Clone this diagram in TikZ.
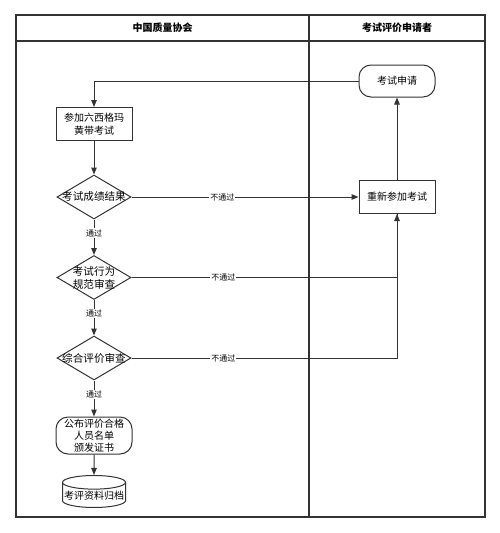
\documentclass[tikz,border=0pt]{standalone}
\usepackage{fontspec}
\setmainfont{Noto Sans CJK SC}
\usetikzlibrary{shapes}
\usetikzlibrary{arrows.meta}
\definecolor{inkgray}{HTML}{333333}
\tikzset{
    lane/.style = {draw=inkgray, line width=1.3pt},
    title/.style = {font=\fontsize{10}{12}\selectfont\bfseries},
    stepbox/.style = {rectangle, line width=1pt, draw=inkgray, fill=white, minimum width=76pt, minimum height=33pt, inner sep=1pt, align=center, font=\fontsize{10}{12.5}\selectfont},
    terminal/.style = {rectangle, rounded corners=12pt, line width=1pt, draw=inkgray, fill=white, minimum width=76pt, minimum height=32pt, inner sep=1pt, align=center, font=\fontsize{10}{12}\selectfont},
    decision/.style = {diamond, line width=1pt, draw=inkgray, fill=white, minimum width=74pt, minimum height=44pt, inner sep=0pt},
    dlabel/.style = {align=center, font=\fontsize{10.6}{13}\selectfont},
    archive/.style = {cylinder, shape border rotate=90, aspect=0.22, line width=1pt, draw=inkgray, fill=white, minimum width=63pt, minimum height=32pt, inner sep=1pt, font=\fontsize{10}{12}\selectfont},
    edgen/.style = {-{Triangle[length=7pt,width=5.5pt]}, line width=1pt, draw=inkgray},
    edgep/.style = {line width=1pt, draw=inkgray}, % plain
    tag/.style = {fill=white, inner sep=1pt, font=\fontsize{8}{9}\selectfont},
}

\begin{document}
\begin{tikzpicture}[x=1pt,y=-1pt]
\useasboundingbox (0,0) rectangle (500,533);
%
\draw[lane] (16,15) rectangle (485,517);
\draw[lane] (16,41) -- (485,41);
\draw[lane] (309,15) -- (309,517);
\node[title] (caq) at (162.5,28) {中国质量协会};
\node[title] (cand) at (397,28) {考试评价申请者};
%
\node[terminal] (apply) at (397,81) {考试申请};
\node[stepbox] (exam) at (94,124) {参加六西格玛\\黄带考试};
\node[decision, label={[dlabel]center:考试成绩结果}] (score) at (94,197) {};
\node[stepbox] (retry) at (397,197) {重新参加考试};
\node[decision, label={[dlabel]center:考试行为\\规范审查}] (conduct) at (94,277.5) {};
\node[decision, label={[dlabel]center:综合评价审查}] (overall) at (94,358) {};
\node[terminal, minimum height=37pt] (publish) at (94,435.5) {公布评价合格\\人员名单\\颁发证书};
\node[archive] (store) at (94,496) {考评资料归档};
%
\draw[edgen] (apply.west) -| (exam.north);
\draw[edgen] (exam) -- (score);
\draw[edgen] (score) -- node[tag, pos=0.38] {通过} (conduct);
\draw[edgen] (conduct) -- node[tag, pos=0.38] {通过} (overall);
\draw[edgen] (overall) -- node[tag, pos=0.38] {通过} (publish);
\draw[edgen] (publish) -- (store);
\draw[edgen] (score) -- node[tag, pos=0.40] {不通过} (retry);
\draw[edgen] (conduct.east) -| node[tag, pos=0.173] {不通过} (retry.south);
\draw[edgep] (overall.east) -| node[tag, pos=0.173] {不通过} (retry.south);
\draw[edgen] (retry) -- (apply);

\end{tikzpicture}
\end{document}
